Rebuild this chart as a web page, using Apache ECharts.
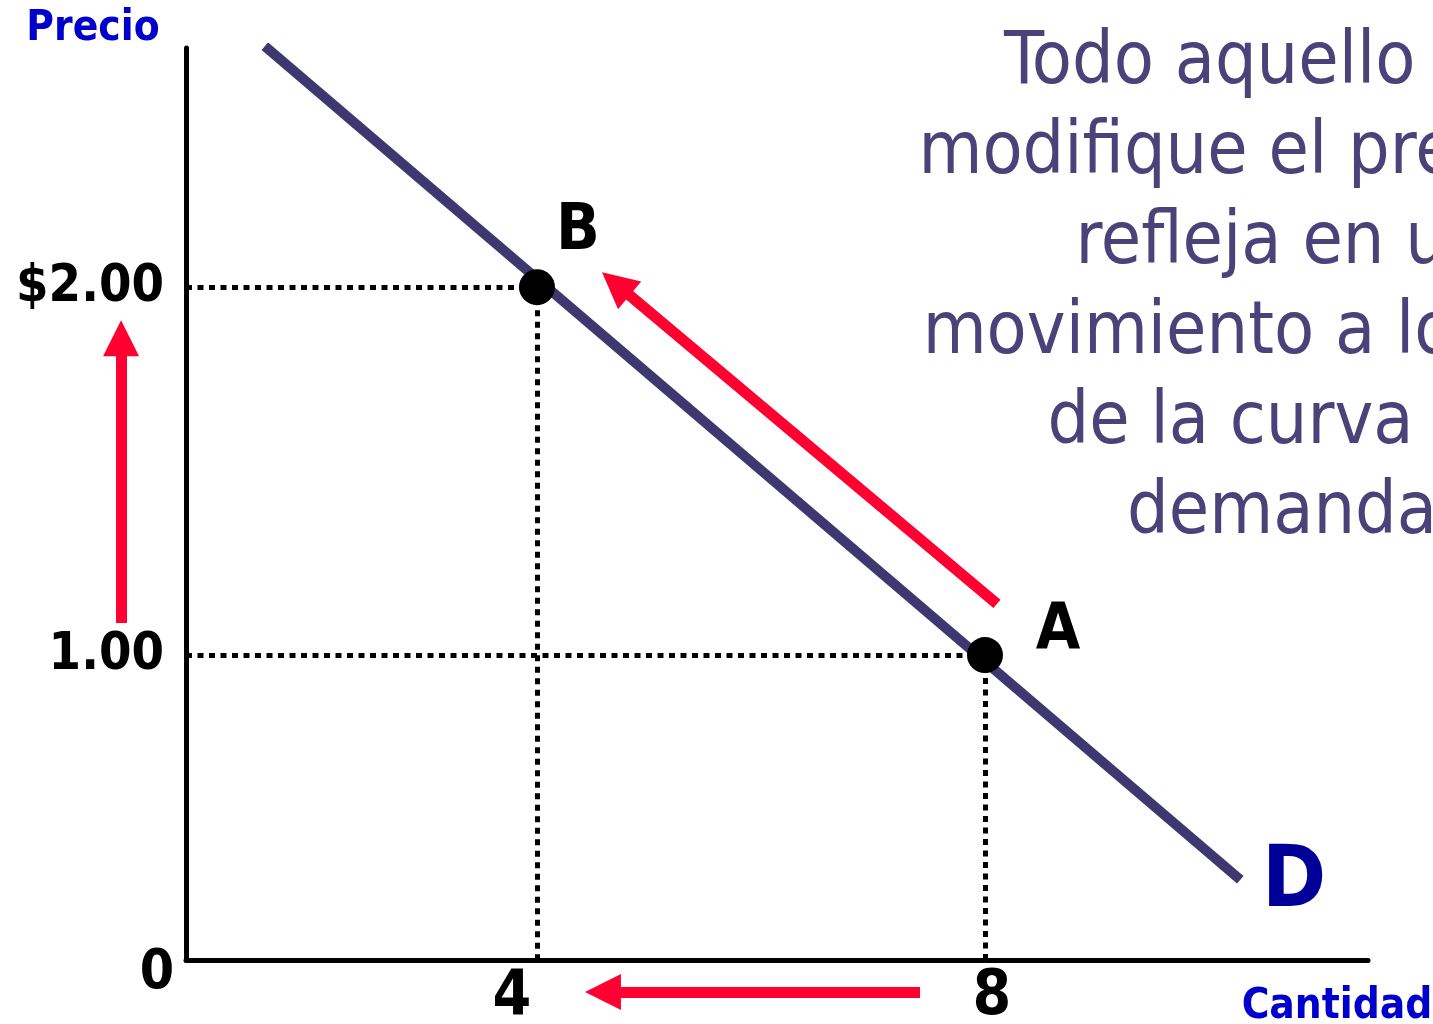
<!DOCTYPE html>
<html><head><meta charset="utf-8">
<script src="https://cdn.jsdelivr.net/npm/echarts@6/dist/echarts.min.js"></script>
<style>html,body{margin:0;padding:0;background:#fff}#chart{width:1433px;height:1024px}</style>
</head><body><div id="chart"></div>
<script>
// ---- data ----
const xRange = [0.866, 11.42];
const yRange = [0.171, 2.65];
const xTicks = [4, 8];
const xTickLabels = ['4', '8'];
const yTicks = [1, 2];
const yTickLabels = ['1.00', '$2.00'];
const demandCurve = [[1.57, 2.655], [10.28, 0.389]];
const pointNames = ['B', 'A'];
const pointQty = [4, 8];
const pointPrice = [2, 1];
const arrowPrice = [[0.286, 1.087], [0.286, 1.861]];
const arrowAlong = [[8.107, 1.139], [4.704, 2.009]];
const arrowQty = [[7.42, 0.084], [4.589, 0.084]];
const textLines = ['Todo aquello que', 'modifique el precio se', 'refleja en un', 'movimiento a lo largo', 'de la curva de', 'demanda'];

const FONT = '"DejaVu Sans Condensed", "DejaVu Sans", sans-serif';
const labelOffsets = [[41, -55], [73, -23]];
const xLabelStyles = ['l', 'r'];

const guides = [];
pointQty.forEach((q, i) => {
  const p = pointPrice[i];
  guides.push({ coords: [[xRange[0], p], [q, p]] });
  guides.push({ coords: [[q, p], [q, yRange[0]]] });
});

const xLabelFont = { fontFamily: FONT, fontWeight: 'bold', fontSize: 62, color: '#000' };

const chart = echarts.init(document.getElementById('chart'));
chart.setOption({
  animation: false,
  backgroundColor: '#fff',
  grid: { left: 186, top: 48, width: 1182, height: 912, containLabel: false, outerBoundsMode: 'none' },
  xAxis: {
    type: 'value', min: xRange[0], max: xRange[1],
    axisLine: { onZero: false, lineStyle: { color: '#000', width: 5 } },
    axisTick: { show: false }, splitLine: { show: false },
    axisLabel: {
      customValues: xTicks,
      formatter: v => { const i = xTicks.indexOf(v); return '{' + xLabelStyles[i] + '|' + xTickLabels[i] + '}'; },
      margin: 7,
      rich: {
        l: Object.assign({ padding: [0, 50, 0, 0] }, xLabelFont),
        r: Object.assign({ padding: [0, 0, 0, 14] }, xLabelFont)
      }
    }
  },
  yAxis: {
    type: 'value', min: yRange[0], max: yRange[1],
    axisLine: { onZero: false, lineStyle: { color: '#000', width: 5 } },
    axisTick: { show: false }, splitLine: { show: false },
    axisLabel: {
      customValues: yTicks,
      formatter: v => yTickLabels[yTicks.indexOf(v)],
      fontFamily: FONT, fontWeight: 'bold', fontSize: 52, color: '#000', margin: 22
    }
  },
  series: [
    {
      type: 'lines', coordinateSystem: 'cartesian2d', z: 1,
      lineStyle: { color: '#000', width: 5, type: [6, 5.5], opacity: 1 },
      data: guides
    },
    {
      type: 'line', z: 2, symbol: 'none',
      lineStyle: { color: '#3f3870', width: 10, cap: 'butt' },
      data: demandCurve
    },
    {
      type: 'scatter', z: 4, symbolSize: 36,
      itemStyle: { color: '#000', opacity: 1 },
      data: pointQty.map((q, i) => ({
        name: pointNames[i], value: [q, pointPrice[i]],
        label: { show: true, formatter: '{b}', position: 'inside', offset: labelOffsets[i],
          fontFamily: FONT, fontWeight: 'bold', fontSize: 64, color: '#000' }
      }))
    },
    {
      type: 'lines', coordinateSystem: 'cartesian2d', z: 3, clip: false,
      symbol: ['none', 'triangle'], symbolSize: 36,
      lineStyle: { color: '#ff0030', width: 11, opacity: 1 },
      itemStyle: { color: '#ff0030' },
      data: [{ coords: arrowPrice }, { coords: arrowAlong }, { coords: arrowQty }]
    }
  ],
  graphic: [
    { type: 'text', x: 1282, y: 19, style: { text: textLines.join('\n'), font: '73px ' + FONT,
      fill: '#4a4278', align: 'center', verticalAlign: 'top', lineHeight: 90 } },
    { type: 'text', x: 93, y: 29, style: { text: 'Precio', font: 'bold 42px ' + FONT,
      fill: '#0000cc', align: 'center', verticalAlign: 'middle' } },
    { type: 'text', x: 1337, y: 1007, style: { text: 'Cantidad', font: 'bold 42px ' + FONT,
      fill: '#0000cc', align: 'center', verticalAlign: 'middle' } },
    { type: 'text', x: 1294, y: 884, style: { text: 'D', font: 'bold 86px ' + FONT,
      fill: '#000099', align: 'center', verticalAlign: 'middle' } },
    { type: 'text', x: 157, y: 974, style: { text: '0', font: 'bold 55px ' + FONT,
      fill: '#000', align: 'center', verticalAlign: 'middle' } }
  ]
});
</script></body></html>
